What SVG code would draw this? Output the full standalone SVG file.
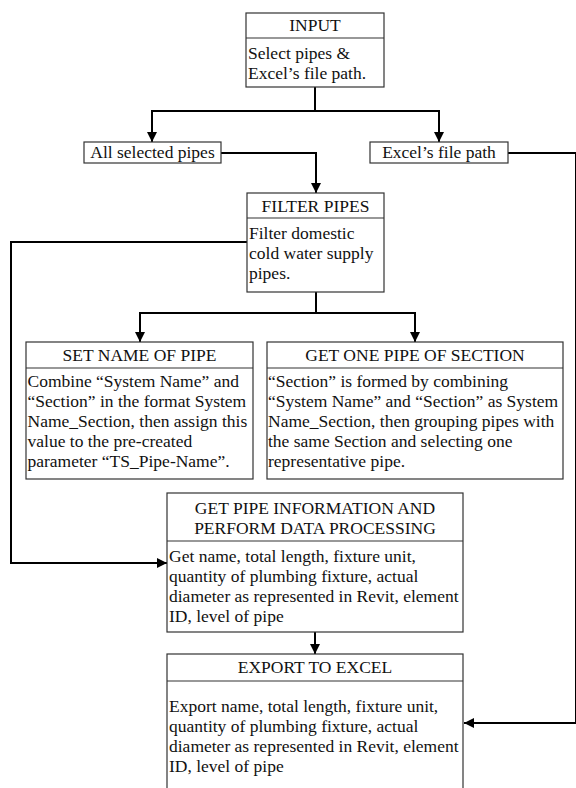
<svg xmlns="http://www.w3.org/2000/svg" width="576" height="788" viewBox="0 0 576 788">
  <defs>
    <marker id="arrow" markerUnits="userSpaceOnUse" markerWidth="10" markerHeight="10" refX="10" refY="5" orient="auto">
      <path d="M0,0 L10,5 L0,10 z" fill="#000"/>
    </marker>
    <style>
      .box { fill: #fff; stroke: #333; stroke-width: 1.2; }
      .div { stroke: #333; stroke-width: 1.2; }
      .wire { fill: none; stroke: #000; stroke-width: 2; }
      text { font-family: "Liberation Serif", "Times New Roman", serif; font-size: 17.5px; fill: #111; }
      .hd { text-anchor: middle; }
    </style>
  </defs>
  <rect width="576" height="788" fill="#fff"/>

  <!-- connectors -->
  <g id="connectors">
    <path class="wire" d="M315,87 V111"/>
    <path class="wire" d="M151,111 H440"/>
    <path class="wire" d="M152,111 V142" marker-end="url(#arrow)"/>
    <path class="wire" d="M439,111 V142" marker-end="url(#arrow)"/>
    <path class="wire" d="M221,153 H316 V193" marker-end="url(#arrow)"/>
    <path class="wire" d="M508,153 H576 V723 H464" marker-end="url(#arrow)"/>
    <path class="wire" d="M247,242 H11 V563 H167" marker-end="url(#arrow)"/>
    <path class="wire" d="M316,292 V313"/>
    <path class="wire" d="M139,313 H416"/>
    <path class="wire" d="M140,313 V342" marker-end="url(#arrow)"/>
    <path class="wire" d="M415,313 V342" marker-end="url(#arrow)"/>
    <path class="wire" d="M315,632 V654" marker-end="url(#arrow)"/>
  </g>

  <g id="input">
    <rect class="box" x="246" y="13" width="138" height="74"/>
    <line class="div" x1="246" y1="38" x2="384" y2="38"/>
    <text class="hd" x="315" y="31">INPUT</text>
    <text x="248" y="59">Select pipes &amp;</text>
    <text x="248" y="79">Excel’s file path.</text>
  </g>

  <g id="all-selected-pipes">
    <rect class="box" x="84" y="142" width="137" height="21"/>
    <text class="hd" x="152.5" y="158">All selected pipes</text>
  </g>

  <g id="excel-file-path">
    <rect class="box" x="370" y="142" width="138" height="21"/>
    <text class="hd" x="439" y="158">Excel’s file path</text>
  </g>

  <g id="filter-pipes">
    <rect class="box" x="247" y="193" width="137" height="99"/>
    <line class="div" x1="247" y1="218" x2="384" y2="218"/>
    <text class="hd" x="315.5" y="212">FILTER PIPES</text>
    <text x="249" y="239">Filter domestic</text>
    <text x="249" y="259">cold water supply</text>
    <text x="249" y="279">pipes.</text>
  </g>

  <g id="set-name-of-pipe">
    <rect class="box" x="26" y="342" width="227" height="137"/>
    <line class="div" x1="26" y1="368" x2="253" y2="368"/>
    <text class="hd" x="139.5" y="361">SET NAME OF PIPE</text>
    <text x="27.5" y="387">Combine “System Name” and</text>
    <text x="27.5" y="407">“Section” in the format System</text>
    <text x="27.5" y="427">Name_Section, then assign this</text>
    <text x="27.5" y="447">value to the pre-created</text>
    <text x="27.5" y="467">parameter “TS_Pipe-Name”.</text>
  </g>

  <g id="get-one-pipe-of-section">
    <rect class="box" x="267" y="342" width="296" height="137"/>
    <line class="div" x1="267" y1="368" x2="563" y2="368"/>
    <text class="hd" x="415" y="361">GET ONE PIPE OF SECTION</text>
    <text x="268" y="387">“Section” is formed by combining</text>
    <text x="268" y="407">“System Name” and “Section” as System</text>
    <text x="268" y="427">Name_Section, then grouping pipes with</text>
    <text x="268" y="447">the same Section and selecting one</text>
    <text x="268" y="467">representative pipe.</text>
  </g>

  <g id="get-pipe-information">
    <rect class="box" x="167" y="493" width="296" height="139"/>
    <line class="div" x1="167" y1="541" x2="463" y2="541"/>
    <text class="hd" x="315" y="514">GET PIPE INFORMATION AND</text>
    <text class="hd" x="315" y="534">PERFORM DATA PROCESSING</text>
    <text x="169" y="562">Get name, total length, fixture unit,</text>
    <text x="169" y="582">quantity of plumbing fixture, actual</text>
    <text x="169" y="602">diameter as represented in Revit, element</text>
    <text x="169" y="622">ID, level of pipe</text>
  </g>

  <g id="export-to-excel">
    <rect class="box" x="167" y="654" width="296" height="150"/>
    <line class="div" x1="167" y1="681" x2="463" y2="681"/>
    <text class="hd" x="315" y="673">EXPORT TO EXCEL</text>
    <text x="169" y="712">Export name, total length, fixture unit,</text>
    <text x="169" y="732">quantity of plumbing fixture, actual</text>
    <text x="169" y="752">diameter as represented in Revit, element</text>
    <text x="169" y="772">ID, level of pipe</text>
  </g>
</svg>
